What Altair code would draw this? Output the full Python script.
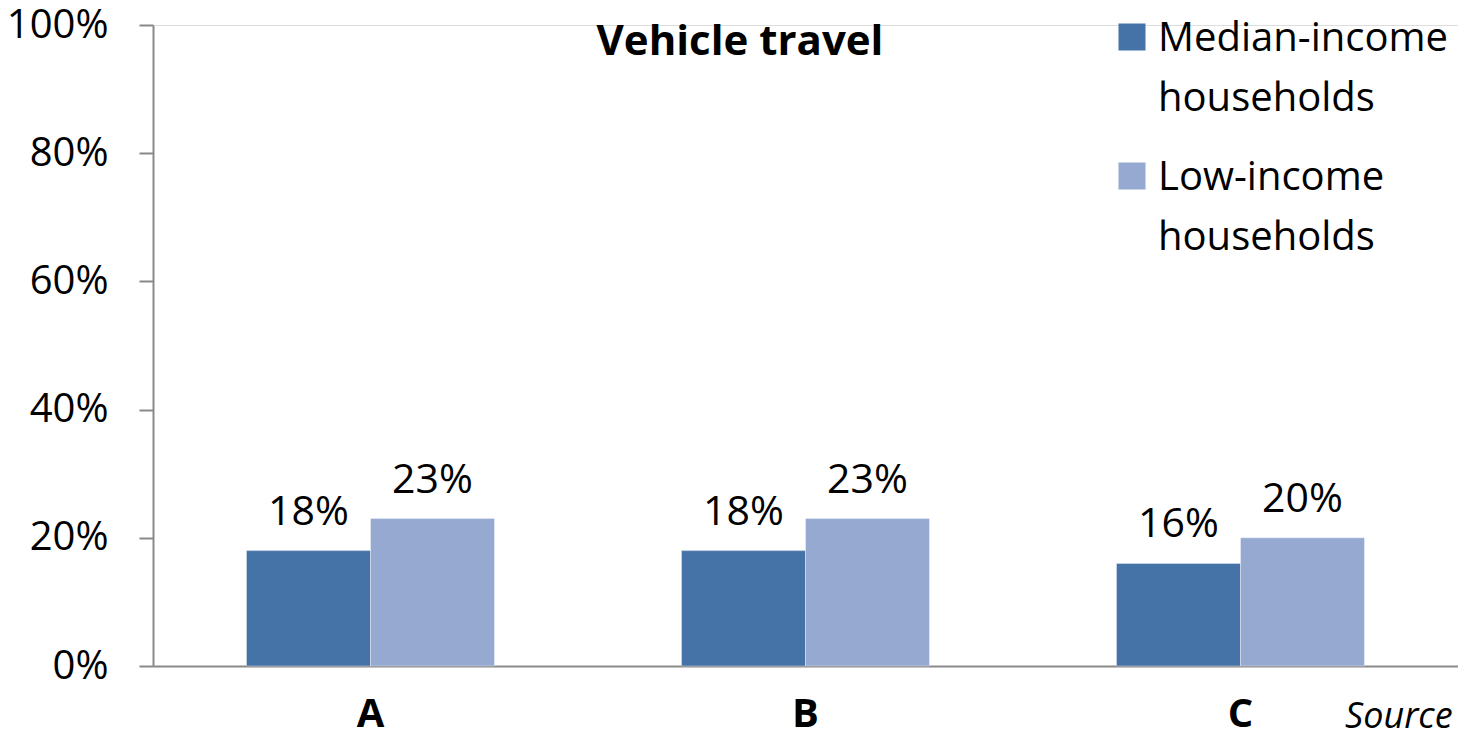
import altair as alt
import pandas as pd

categories = ["A", "B", "C"]
series = ["Median-income households", "Low-income households"]
median_vals = [0.18, 0.18, 0.16]
low_vals = [0.23, 0.23, 0.20]
colors = ["#4573A7", "#95A9D1"]
y_ticks = [0, 0.2, 0.4, 0.6, 0.8, 1.0]
title_text = ["Vehicle travel"]
source_text = ["Source"]

rows = []
for i, c in enumerate(categories):
    rows.append({"cat": c, "series": series[0], "value": median_vals[i]})
    rows.append({"cat": c, "series": series[1], "value": low_vals[i]})
df = pd.DataFrame(rows)

FONT = "Open Sans"
LDY = -18  # shift applied to all guide labels (for legend alignment)

base = alt.Chart(df).encode(
    x=alt.X("cat:N", sort=categories, title=None,
            scale=alt.Scale(paddingInner=0, paddingOuter=0),
            axis=alt.Axis(ticks=False, labelFontWeight="bold", labelFontSize=40,
                          labelFont=FONT, labelColor="#000000", labelPadding=60 - LDY,
                          labelBaseline="alphabetic", domainColor="#898989",
                          domainWidth=2, labelAngle=0)),
    xOffset=alt.XOffset("series:N", sort=series,
                        scale=alt.Scale(paddingInner=0, paddingOuter=0.754)),
    y=alt.Y("value:Q", title=None,
            scale=alt.Scale(domain=[0, 1], nice=False),
            axis=alt.Axis(values=y_ticks, format=".0%", grid=False, tickSize=14,
                          tickColor="#898989", tickWidth=2, domainColor="#898989",
                          domainWidth=2, labelPadding=31, labelFontSize=40,
                          labelOffset=-LDY,
                          labelFont=FONT, labelColor="#000000")),
)

bars = base.mark_bar(stroke="#ffffff", strokeWidth=0.6, strokeOpacity=0.6).encode(
    color=alt.Color("series:N", sort=series,
                    scale=alt.Scale(domain=series, range=colors),
                    legend=alt.Legend(orient="none", legendX=959, legendY=-8,
                                      title=None, symbolType="square", symbolSize=729,
                                      symbolStrokeWidth=0, labelFontSize=40,
                                      labelFont=FONT, labelColor="#000000",
                                      labelOffset=6, rowPadding=37,
                                      labelExpr="split(datum.label, ' ')",
                                      labelBaseline="top", labelLimit=500, padding=0)),
)

labels = base.mark_text(baseline="alphabetic", dy=-26, fontSize=41, font=FONT,
                        color="#000000").encode(
    text=alt.Text("value:Q", format=".0%"),
)

title = alt.Chart(pd.DataFrame({"t": title_text})).mark_text(
    align="center", baseline="alphabetic", fontSize=42, font=FONT,
    fontWeight="bold", color="#000000"
).encode(text="t:N", x=alt.value(587), y=alt.value(30))

source = alt.Chart(pd.DataFrame({"t": source_text})).mark_text(
    align="left", baseline="alphabetic", fontSize=36, font=FONT,
    fontStyle="italic", color="#000000"
).encode(text="t:N", x=alt.value(1192), y=alt.value(703))

chart = alt.layer(bars, labels, title, source).properties(
    width=1305, height=641,
    autosize=alt.AutoSizeParams(type="none"),
    padding={"left": 145, "top": 17, "right": 0, "bottom": 72},
).configure_view(stroke=None).configure(
    style={"guide-label": {"lineHeight": 60, "dy": LDY}}
)

chart.save("out.html", embed_options={"renderer": "svg", "actions": False})
